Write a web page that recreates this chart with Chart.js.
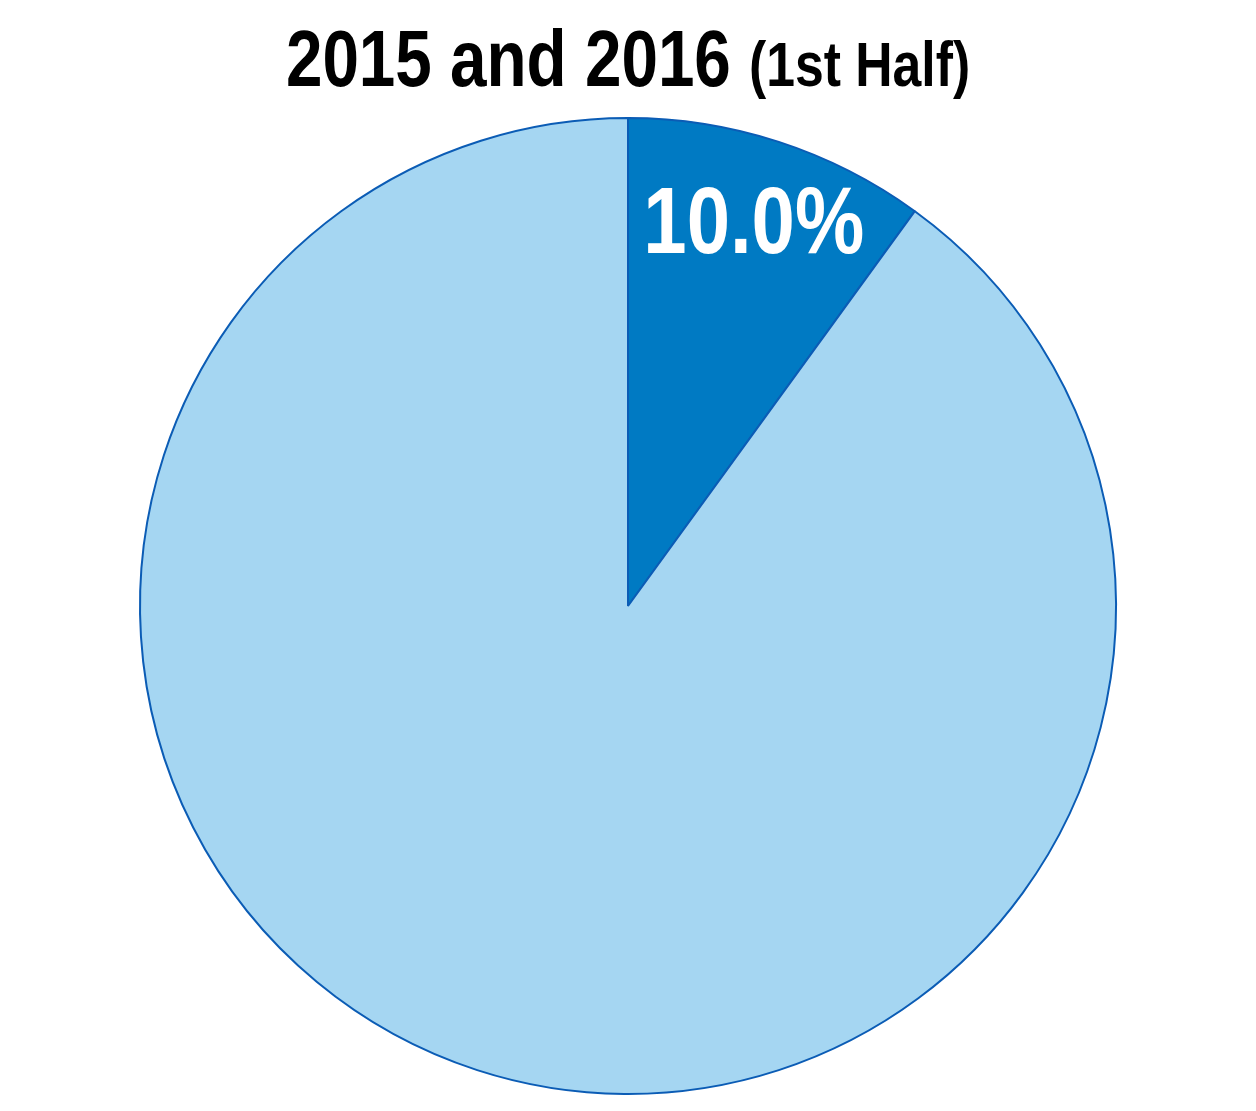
<!DOCTYPE html>
<html>
<head>
<meta charset="utf-8">
<script src="https://cdn.jsdelivr.net/npm/chart.js@4"></script>
<style>
  html, body { margin: 0; padding: 0; background: #ffffff; }
  #wrap { position: relative; width: 1256px; height: 1111px; }
</style>
</head>
<body>
<div id="wrap"><canvas id="c" width="1256" height="1111"></canvas></div>
<script>
const categories = ["Share", "Remainder"];
const values = [10.0, 90.0];
const valueLabels = ["10.0%", ""];
const titleMain = "2015 and 2016";
const titleSub = "(1st Half)";

const FONT = '"Liberation Sans", Arial, sans-serif';
const NARROW = 0.82;

function narrowText(ctx, txt, x, y, align) {
  const w = ctx.measureText(txt).width * NARROW;
  let left = x;
  if (align === 'center') left = x - w / 2;
  else if (align === 'right') left = x - w;
  ctx.save();
  ctx.translate(left, y);
  ctx.scale(NARROW, 1);
  ctx.textAlign = 'left';
  ctx.fillText(txt, 0, 0);
  ctx.restore();
  return w;
}

const titlePlugin = {
  id: 'mixedTitle',
  afterDraw(chart) {
    const ctx = chart.ctx;
    ctx.save();
    ctx.fillStyle = '#000000';
    ctx.textBaseline = 'alphabetic';
    const f1 = 'bold 80px ' + FONT;
    const f2 = 'bold 63px ' + FONT;
    ctx.font = f1;
    const w1 = ctx.measureText(titleMain + ' ').width * NARROW;
    ctx.font = f2;
    const w2 = ctx.measureText(titleSub).width * NARROW;
    const total = w1 + w2;
    const x0 = chart.width / 2 - total / 2;
    const y = 86;
    ctx.font = f1;
    narrowText(ctx, titleMain + ' ', x0, y, 'left');
    ctx.font = f2;
    narrowText(ctx, titleSub, x0 + w1, y, 'left');
    ctx.restore();
  }
};

const labelPlugin = {
  id: 'sliceLabels',
  afterDatasetsDraw(chart) {
    const ctx = chart.ctx;
    const meta = chart.getDatasetMeta(0);
    ctx.save();
    ctx.fillStyle = '#ffffff';
    ctx.textBaseline = 'alphabetic';
    const size = 95;
    ctx.font = 'bold ' + size + 'px ' + FONT;
    meta.data.forEach((arc, i) => {
      const txt = valueLabels[i];
      if (!txt) return;
      const p = arc.getProps(['x', 'y', 'startAngle', 'endAngle', 'outerRadius']);
      const mid = (p.startAngle + p.endAngle) / 2;
      const r = p.outerRadius * 0.834;
      const x = p.x + Math.cos(mid) * r;
      const y = p.y + Math.sin(mid) * r;
      narrowText(ctx, txt, x, y + size * 0.36, 'center');
    });
    ctx.restore();
  }
};

new Chart(document.getElementById('c'), {
  type: 'pie',
  data: {
    labels: categories,
    datasets: [{
      data: values,
      backgroundColor: ['#007AC3', '#A5D6F2'],
      borderColor: '#0B5CB5',
      borderWidth: 2,
      radius: 488
    }]
  },
  options: {
    responsive: false,
    animation: false,
    layout: { padding: { top: 101, bottom: 0, left: 0, right: 0 } },
    plugins: {
      legend: { display: false },
      title: { display: false },
      tooltip: { enabled: false }
    }
  },
  plugins: [titlePlugin, labelPlugin]
});
</script>
</body>
</html>
